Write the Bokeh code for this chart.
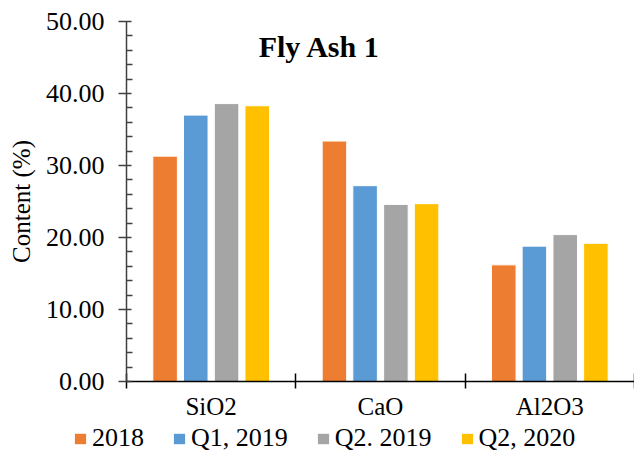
from bokeh.plotting import figure
from bokeh.layouts import column
from bokeh.models import (ColumnDataSource, Range1d, LinearAxis, FixedTicker,
                          NumeralTickFormatter, Legend, LegendItem, Label)
from bokeh.transform import dodge
from bokeh.embed import file_html
from bokeh.resources import INLINE

# Oxide content of Fly Ash 1 across sampling periods
oxides = ["SiO2", "CaO", "Al2O3"]
series = ["2018", "Q1, 2019", "Q2. 2019", "Q2, 2020"]
v_2018 = [31.3, 33.4, 16.2]
v_q1_2019 = [37.0, 27.2, 18.8]
v_q2_2019 = [38.6, 24.6, 20.4]
v_q2_2020 = [38.3, 24.7, 19.2]
colors = ["#ED7D31", "#5B9BD5", "#A5A5A5", "#FFC000"]
y_ticks = [0, 10, 20, 30, 40, 50]
y_minor = [2, 4, 6, 8, 12, 14, 16, 18, 22, 24, 26, 28, 32, 34, 36, 38, 42, 44, 46, 48]

FONT = "Liberation Serif"

# Each oxide group occupies one unit on the x scale; bars sit around its centre
centres = [i + 0.5 for i in range(len(oxides))]
edges = list(range(len(oxides) + 1))

source = ColumnDataSource(data=dict(
    xc=centres, s0=v_2018, s1=v_q1_2019, s2=v_q2_2019, s3=v_q2_2020,
))

p = figure(width=634, height=422, x_range=Range1d(0, len(oxides)),
           y_range=Range1d(0, 50), output_backend="svg", toolbar_location=None,
           x_axis_location=None, min_border_left=126, min_border_right=0,
           min_border_top=21, min_border_bottom=40)
p.frame_align = False
p.outline_line_color = None
p.xgrid.grid_line_color = None
p.ygrid.grid_line_color = None
p.background_fill_color = "white"
p.border_fill_color = "white"

# Bars, dodged within each oxide group
offsets = [-0.272, -0.091, 0.091, 0.272]
for i, key in enumerate(["s0", "s1", "s2", "s3"]):
    p.vbar(x=dodge("xc", offsets[i]), top=key, width=0.145,
           source=source, fill_color=colors[i], line_color="white", line_width=1)

# Y axis
ya = p.yaxis[0]
ya.ticker = FixedTicker(ticks=y_ticks, minor_ticks=y_minor)
ya.formatter = NumeralTickFormatter(format="0.00")
ya.major_label_text_font = FONT
ya.major_label_text_font_size = "26px"
ya.major_label_text_color = "black"
ya.major_label_standoff = 14
ya.axis_line_color = "#404040"
ya.axis_line_width = 1.5
ya.major_tick_line_color = "#404040"
ya.major_tick_line_width = 1.5
ya.minor_tick_line_color = "#404040"
ya.minor_tick_line_width = 1.5
ya.major_tick_in = 5
ya.major_tick_out = 8
ya.minor_tick_in = 6
ya.minor_tick_out = 0
ya.axis_label = "Content (%)"
ya.axis_label_text_font = FONT
ya.axis_label_text_font_style = "normal"
ya.axis_label_text_font_size = "25px"
ya.axis_label_text_color = "black"
ya.axis_label_standoff = 8

# Group boundary ticks on the x axis
edge_axis = LinearAxis(ticker=FixedTicker(ticks=edges, minor_ticks=[]))
edge_axis.axis_line_color = "black"
edge_axis.axis_line_width = 1.5
edge_axis.major_tick_line_color = "black"
edge_axis.major_tick_line_width = 1.5
edge_axis.major_tick_in = 8
edge_axis.major_tick_out = 7
edge_axis.minor_tick_line_color = None
edge_axis.major_label_text_font_size = "0px"
edge_axis.major_label_text_color = None
edge_axis.major_label_standoff = 0
p.add_layout(edge_axis, "below")

# Oxide names under each group
cat_axis = LinearAxis(ticker=FixedTicker(ticks=centres, minor_ticks=[]),
                      major_label_overrides={c: name for c, name in zip(centres, oxides)})
cat_axis.axis_line_color = None
cat_axis.major_tick_line_color = None
cat_axis.minor_tick_line_color = None
cat_axis.major_tick_in = 0
cat_axis.major_tick_out = 0
cat_axis.major_label_text_font = FONT
cat_axis.major_label_text_font_size = "25px"
cat_axis.major_label_text_color = "black"
cat_axis.major_label_standoff = 4
p.add_layout(cat_axis, "below")

# Chart title
title = Label(x=193, y=335, x_units="screen", y_units="screen", text="Fly Ash 1",
              text_align="center", text_baseline="alphabetic", text_font=FONT,
              text_font_style="bold", text_font_size="30px", text_color="black")
p.add_layout(title)

# Legend strip under the chart; each entry has a flat zero-height bar as its swatch
leg = figure(width=634, height=31, x_range=Range1d(0, 1), y_range=Range1d(0, 1),
             output_backend="svg", toolbar_location=None,
             x_axis_location=None, y_axis_location=None,
             min_border=0, min_border_left=0, min_border_right=0,
             min_border_top=0, min_border_bottom=0)
leg.frame_align = False
leg.outline_line_color = None
leg.xgrid.grid_line_color = None
leg.ygrid.grid_line_color = None
swatch_src = ColumnDataSource(data=dict(x=[0.0], top=[0.0]))
swatches = [leg.vbar(x="x", top="top", width=0.0, source=swatch_src,
                     fill_color=c, line_color=None)
            for c in colors]
legend = Legend(items=[LegendItem(label=s, renderers=[r]) for s, r in zip(series, swatches)],
                orientation="horizontal", location=(73, 0),
                glyph_width=14, glyph_height=13, label_standoff=5, spacing=28,
                padding=0, margin=0, border_line_color=None, background_fill_alpha=0,
                label_text_font=FONT, label_text_font_size="26px", label_text_color="black",
                label_height=25)
leg.add_layout(legend, "center")

open("out.html", "w").write(file_html(column(p, leg, spacing=0), INLINE))
